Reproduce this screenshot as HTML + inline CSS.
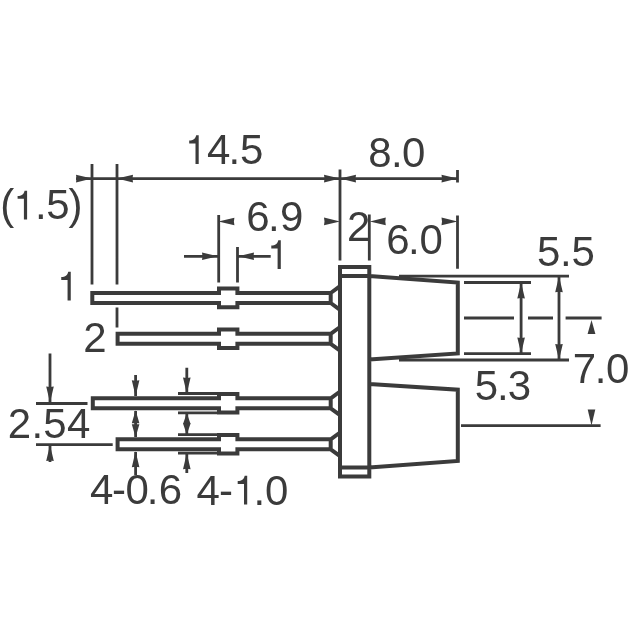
<!DOCTYPE html>
<html><head><meta charset="utf-8"><style>
html,body{margin:0;padding:0;background:#fff;width:640px;height:640px;overflow:hidden}
svg{display:block;will-change:transform}
</style></head><body>
<svg width="640" height="640" viewBox="0 0 640 640">
<rect width="640" height="640" fill="#fff"/>
<path d="M76 178.6H457.5 M92 164V284.5 M117 164V284.5 M117 307.5V327.5 M340 169.5V260.5 M457.5 170V182.5 M457.5 215.6V268.8 M369.3 214.5V260.5 M218.7 215V282.5 M237.5 247V282.5 M184 256.3H218 M238 256.3H270.7 M50 353.5V402 M36 403.5H87.5 M36 444.6H112.7 M50 445V462 M135.6 374.9V396 M135.6 411V437 M135.6 452V475 M186.8 367.8V393 M186.8 413V434.5 M186.8 453.5V473 M178 393.5H217 M178 412.9H217 M178 434.6H217 M178 453.2H217 M399 276.2H569 M399 360H569 M464 282.5H531 M464 353.6H531 M464 318H514M528 318H553M565.6 318H601.6 M461 425.6H600.6 M521.1 282.5V353.6 M559 276.2V360" fill="none" stroke="#3b3b3b" stroke-width="2.8"/>
<g fill="#3b3b3b"><polygon points="92.00,178.60 76.00,174.80 76.50,178.60 76.00,182.40"/><polygon points="117.00,178.60 133.00,174.80 132.50,178.60 133.00,182.40"/><polygon points="340.00,178.60 324.00,174.80 324.50,178.60 324.00,182.40"/><polygon points="340.00,178.60 356.00,174.80 355.50,178.60 356.00,182.40"/><polygon points="457.50,178.60 441.50,174.80 442.00,178.60 441.50,182.40"/><polygon points="218.40,221.50 234.40,217.70 233.90,221.50 234.40,225.30"/><polygon points="218.00,256.30 202.00,252.50 202.50,256.30 202.00,260.10"/><polygon points="238.00,256.30 254.00,252.50 253.50,256.30 254.00,260.10"/><polygon points="340.00,221.40 324.00,217.60 324.50,221.40 324.00,225.20"/><polygon points="369.80,221.40 385.80,217.60 385.30,221.40 385.80,225.20"/><polygon points="457.50,221.40 441.50,217.60 442.00,221.40 441.50,225.20"/><polygon points="50.00,402.50 46.20,386.50 50.00,387.00 53.80,386.50"/><polygon points="50.00,445.00 46.20,461.00 50.00,460.50 53.80,461.00"/><polygon points="135.60,396.30 131.80,380.30 135.60,380.80 139.40,380.30"/><polygon points="135.60,410.30 131.80,423.30 135.60,423.30 139.40,423.30"/><polygon points="135.60,437.30 131.80,424.30 135.60,424.30 139.40,424.30"/><polygon points="135.60,451.30 131.80,467.30 135.60,466.80 139.40,467.30"/><polygon points="186.80,393.50 183.00,377.50 186.80,378.00 190.60,377.50"/><polygon points="186.80,412.90 183.00,423.90 186.80,423.90 190.60,423.90"/><polygon points="186.80,434.60 183.00,423.60 186.80,423.60 190.60,423.60"/><polygon points="186.80,453.20 183.00,469.20 186.80,468.70 190.60,469.20"/><polygon points="521.10,282.50 517.30,298.50 521.10,298.00 524.90,298.50"/><polygon points="521.10,353.60 517.30,337.60 521.10,338.10 524.90,337.60"/><polygon points="559.00,276.20 555.20,292.20 559.00,291.70 562.80,292.20"/><polygon points="559.00,360.00 555.20,344.00 559.00,344.50 562.80,344.00"/><polygon points="591.50,320.00 587.60,334.00 591.50,334.00 595.40,334.00"/><polygon points="591.50,425.50 587.70,409.50 591.50,409.50 595.30,409.50"/></g>
<path d="M330.7 293.00 H237.4 V288.60 H219 V293.00 H92.30 V303.00 H219 V307.30 H237.4 V303.00 H330.7 Z M330.7 293.00 L340 286.20 M330.7 303.00 L340 309.80 M330.7 333.80 H237.4 V329.40 H219 V333.80 H117.60 V343.80 H219 V348.10 H237.4 V343.80 H330.7 Z M330.7 333.80 L340 327.00 M330.7 343.80 L340 350.60 M330.7 398.30 H237.4 V393.90 H219 V398.30 H92.80 V408.30 H219 V412.60 H237.4 V408.30 H330.7 Z M330.7 398.30 L340 391.50 M330.7 408.30 L340 415.10 M330.7 439.30 H237.4 V434.90 H219 V439.30 H117.60 V449.30 H219 V453.60 H237.4 V449.30 H330.7 Z M330.7 439.30 L340 432.50 M330.7 449.30 L340 456.10 M340 267H369.3V476.4H340Z M340 275.9H369.3 M340 467.6H369.3 M369.3 276L457.8 282.5V353.5L369.3 359.5 M369.3 384L457.8 389.7V461L369.3 467.5" fill="none" stroke="#3b3b3b" stroke-width="4" stroke-linejoin="miter"/>
<g font-family="Liberation Sans, sans-serif" font-size="42" fill="#3b3b3b"><text x="207.00 228.50 239.90" y="164.00">4.5</text><text x="368.20 390.90 402.00" y="167.00">8.0</text><text x="0.30 35.00 46.25 68.50" y="219.40">(.5)</text><text x="246.20 268.10 280.00" y="230.60">6.9</text><text x="347.00" y="240.60">2</text><text x="386.20 408.10 419.50" y="254.00">6.0</text><text x="537.00 560.00 571.50" y="266.00">5.5</text><text x="83.20" y="351.50">2</text><text x="7.70 31.60 43.30 67.00" y="437.50">2.54</text><text x="90.00 112.10 125.40 146.80 158.70" y="503.50">4-0.6</text><text x="196.50 218.90 253.60 265.00" y="504.50">4-.0</text><text x="474.70 496.90 507.70" y="399.80">5.3</text><text x="572.75 594.80 606.10" y="382.50">7.0</text></g>
<g fill="#3b3b3b"><path transform="translate(185.00 164.00)" d="M13.7 0V-28.7H11.2C10.8 -26.5 9.5 -24.6 7.5 -24C6.5 -23.6 5.2 -23.4 4.2 -23.4V-20.6H10.5V0Z"/><path transform="translate(13.40 219.40)" d="M13.7 0V-28.7H11.2C10.8 -26.5 9.5 -24.6 7.5 -24C6.5 -23.6 5.2 -23.4 4.2 -23.4V-20.6H10.5V0Z"/><path transform="translate(267.10 269.00)" d="M13.7 0V-28.7H11.2C10.8 -26.5 9.5 -24.6 7.5 -24C6.5 -23.6 5.2 -23.4 4.2 -23.4V-20.6H10.5V0Z"/><path transform="translate(57.06 300.50)" d="M13.7 0V-28.7H11.2C10.8 -26.5 9.5 -24.6 7.5 -24C6.5 -23.6 5.2 -23.4 4.2 -23.4V-20.6H10.5V0Z"/><path transform="translate(233.50 504.50)" d="M13.7 0V-28.7H11.2C10.8 -26.5 9.5 -24.6 7.5 -24C6.5 -23.6 5.2 -23.4 4.2 -23.4V-20.6H10.5V0Z"/></g>
</svg>
</body></html>
